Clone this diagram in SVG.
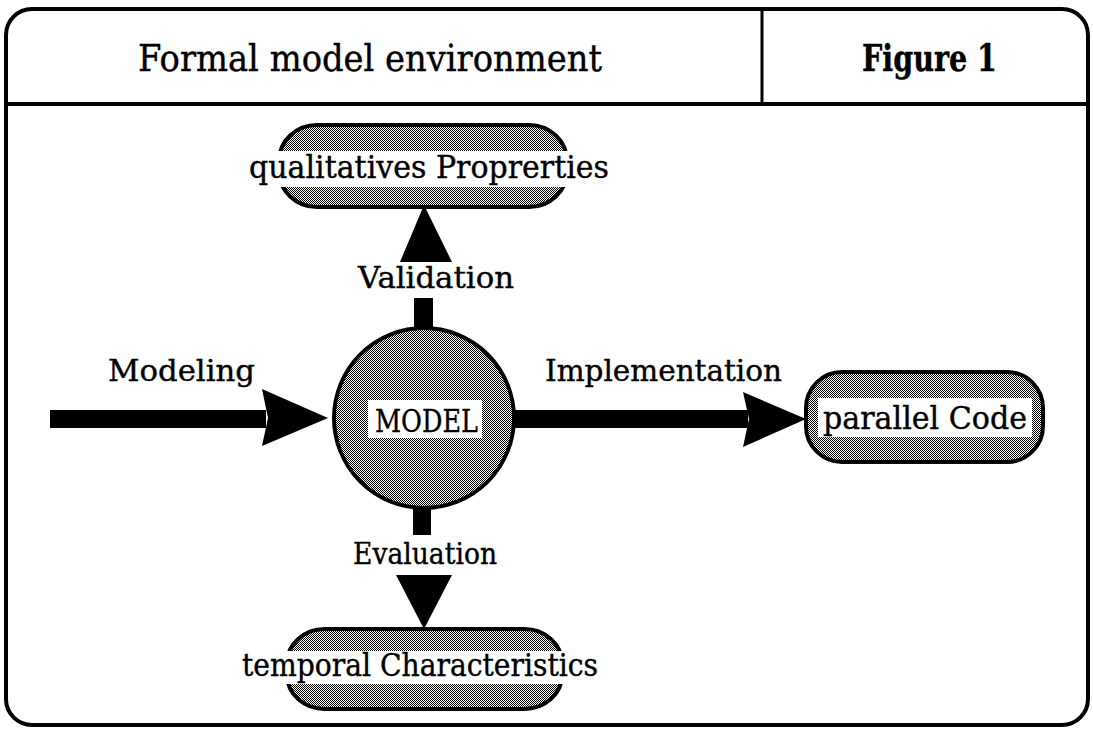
<svg xmlns="http://www.w3.org/2000/svg" width="1093" height="731" viewBox="0 0 1093 731">
  <defs>
    <pattern id="ht" patternUnits="userSpaceOnUse" x="0" y="0" width="2" height="2">
      <rect width="2" height="2" fill="#ffffff"/>
      <rect x="0" y="0" width="1" height="1" fill="#000000"/>
      <rect x="1" y="1" width="1" height="1" fill="#000000"/>
    </pattern>
  </defs>
  <style>
    .frame { fill: #ffffff; stroke: #000; stroke-width: 4; }
    .node { fill: url(#ht); stroke: #000; stroke-width: 4; }
    .band { fill: #ffffff; stroke: none; }
    .lbl { font-family: "DejaVu Serif", "Liberation Serif", serif; fill: #000; stroke: #000; stroke-width: 0.4; }
    .solid { fill: #000; stroke: none; }
  </style>
  <rect width="1093" height="731" fill="#ffffff"/>

  <g id="frame">
    <rect class="frame" x="6" y="9" width="1082" height="716" rx="26" ry="26"/>
    <line x1="6" y1="104" x2="1088" y2="104" stroke="#000" stroke-width="4"/>
    <line x1="762" y1="9" x2="762" y2="104" stroke="#000" stroke-width="3"/>
    <text class="lbl" x="138" y="71" font-size="37" textLength="464" lengthAdjust="spacingAndGlyphs">Formal model environment</text>
    <text class="lbl" x="862" y="71" font-size="37" font-weight="bold" textLength="135" lengthAdjust="spacingAndGlyphs">Figure 1</text>
  </g>

  <g id="connectors">
    <!-- Modeling -->
    <rect class="solid" x="50" y="410" width="216" height="18"/>
    <polygon class="solid" points="262,389 328,418 262,446 268,418"/>
    <text class="lbl" x="108" y="381" font-size="30" textLength="147" lengthAdjust="spacingAndGlyphs">Modeling</text>
    <!-- Implementation -->
    <rect class="solid" x="514" y="410" width="234" height="18"/>
    <polygon class="solid" points="743,392 806,419 743,447 749,419"/>
    <text class="lbl" x="545" y="381" font-size="30" textLength="237" lengthAdjust="spacingAndGlyphs">Implementation</text>
    <!-- Validation -->
    <rect class="solid" x="414" y="298" width="19" height="34"/>
    <polygon class="solid" points="424,205 452,262 400,262"/>
    <text class="lbl" x="358" y="288" font-size="30" textLength="156" lengthAdjust="spacingAndGlyphs">Validation</text>
    <!-- Evaluation -->
    <rect class="solid" x="413" y="504" width="18" height="31"/>
    <polygon class="solid" points="396,575 452,575 424,629"/>
    <text class="lbl" x="353" y="564" font-size="30" textLength="144" lengthAdjust="spacingAndGlyphs">Evaluation</text>
  </g>

  <g id="node-model">
    <circle class="node" cx="424" cy="418" r="90"/>
    <rect class="band" x="368" y="400" width="114" height="38"/>
    <text class="lbl" x="375" y="432" font-size="32" textLength="103" lengthAdjust="spacingAndGlyphs">MODEL</text>
  </g>

  <g id="node-properties">
    <rect class="node" x="279" y="125" width="288" height="82" rx="38" ry="36"/>
    <rect class="band" x="246" y="151" width="366" height="36"/>
    <text class="lbl" x="249" y="178" font-size="31" textLength="360" lengthAdjust="spacingAndGlyphs">qualitatives Proprerties</text>
  </g>

  <g id="node-code">
    <rect class="node" x="806" y="372" width="237" height="90" rx="36" ry="36"/>
    <rect class="band" x="818" y="398" width="214" height="39"/>
    <text class="lbl" x="823" y="429" font-size="31" textLength="204" lengthAdjust="spacingAndGlyphs">parallel Code</text>
  </g>

  <g id="node-temporal">
    <rect class="node" x="287" y="629" width="275" height="80" rx="38" ry="34"/>
    <rect class="band" x="240" y="651" width="362" height="33"/>
    <text class="lbl" x="242" y="676" font-size="31" textLength="356" lengthAdjust="spacingAndGlyphs">temporal Characteristics</text>
  </g>
</svg>
